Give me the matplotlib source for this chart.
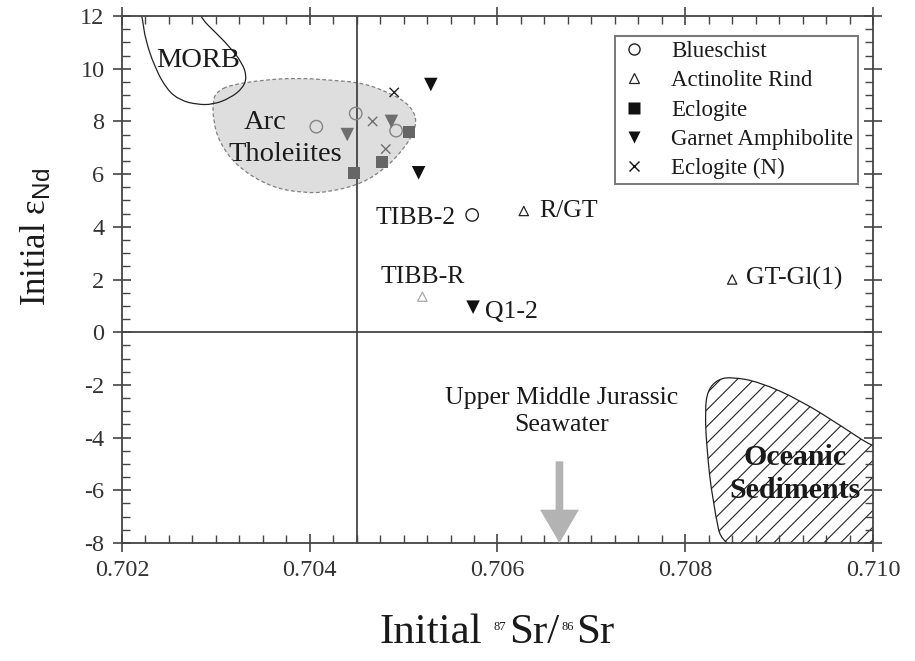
import matplotlib
matplotlib.use("Agg")
import matplotlib.pyplot as plt
from matplotlib.path import Path
from matplotlib.patches import PathPatch
from matplotlib.lines import Line2D

plt.rcParams["font.family"] = ["Liberation Serif", "DejaVu Serif"]
plt.rcParams["mathtext.fontset"] = "custom"
plt.rcParams["mathtext.rm"] = "Liberation Serif"
plt.rcParams["mathtext.it"] = "Liberation Serif:italic"
plt.rcParams["mathtext.sf"] = "Liberation Sans"
plt.rcParams["axes.unicode_minus"] = False
plt.rcParams["hatch.linewidth"] = 0.8

# Proben: initiales 87Sr/86Sr und eNd
blueschist_sr = [0.70407, 0.70449, 0.70492, 0.70573]
blueschist_nd = [7.8, 8.3, 7.65, 4.45]
actinolite_sr = [0.70628, 0.70520, 0.70850]
actinolite_nd = [4.6, 1.35, 2.0]
eclogite_sr = [0.70506, 0.70477, 0.70447]
eclogite_nd = [7.6, 6.45, 6.05]
garnet_amph_sr = [0.70529, 0.70516, 0.70440, 0.70487, 0.70574]
garnet_amph_nd = [9.4, 6.05, 7.5, 8.0, 0.95]
eclogite_n_sr = [0.70490, 0.70467, 0.70481]
eclogite_n_nd = [9.1, 8.0, 6.95]

# Graustufen je Punkt (grau = innerhalb des Arc-Tholeiit-Feldes)
blueschist_shade = ["#858585", "#858585", "#858585", "#222222"]
actinolite_shade = ["#222222", "#a8a8a8", "#222222"]
eclogite_shade = ["#666666", "#666666", "#666666"]
garnet_amph_shade = ["#111111", "#111111", "#6e6e6e", "#6e6e6e", "#111111"]
eclogite_n_shade = ["#222222", "#6e6e6e", "#6e6e6e"]

# Beschriftete Proben
sample_labels = ["TIBB-2", "R/GT", "TIBB-R", "Q1-2", "GT-Gl(1)"]
sample_label_sr = [0.70555, 0.70645, 0.70520, 0.70587, 0.70865]
sample_label_nd = [4.35, 4.6, 2.1, 0.75, 2.05]
sample_label_ha = ["right", "left", "center", "left", "left"]

# Umrisse der Referenzfelder (Sr, eNd)
morb_sr = [0.70219, 0.70222, 0.70225, 0.70235, 0.70248, 0.70262, 0.70280,
           0.70297, 0.70315, 0.70329, 0.70333, 0.70328, 0.70315, 0.70297,
           0.70286, 0.70278, 0.70251]
morb_nd = [12.4, 11.85, 11.1, 10.05, 9.2, 8.8, 8.64, 8.64, 8.88, 9.27, 9.7,
           10.22, 10.82, 11.47, 11.85, 12.4, 13.0]
arc_sr = [0.70301, 0.70315, 0.70350, 0.70386, 0.70422, 0.70457, 0.70485,
          0.70504, 0.70514, 0.70511, 0.70499, 0.70482, 0.70457, 0.70422,
          0.70393, 0.70358, 0.70323, 0.70304, 0.70297, 0.70297]
arc_nd = [9.12, 9.38, 9.57, 9.65, 9.57, 9.46, 9.08, 8.70, 8.17, 7.56, 6.91,
          6.27, 5.66, 5.32, 5.28, 5.51, 6.27, 7.18, 8.05, 8.81]
sed_sr = [0.70842, 0.70829, 0.70823, 0.70821, 0.70824, 0.70835, 0.70850,
          0.70879, 0.70922, 0.70968, 0.71000, 0.71015, 0.71015]
sed_nd = [-8.6, -6.37, -4.47, -2.95, -2.19, -1.78, -1.70, -1.89, -2.57,
          -3.60, -4.36, -4.4, -8.6]

seawater_sr = 0.70666
seawater_nd_top = -4.9


def smooth_outline(xs, ys):
    # geschlossene quadratische B-Spline-Kurve durch die Stuetzpunkte
    pts = list(zip(xs, ys))
    n = len(pts)
    mid = lambda a, b: ((a[0] + b[0]) / 2, (a[1] + b[1]) / 2)
    verts = [mid(pts[0], pts[1])]
    codes = [Path.MOVETO]
    for i in range(1, n + 1):
        p = pts[i % n]
        q = pts[(i + 1) % n]
        verts += [p, mid(p, q)]
        codes += [Path.CURVE3, Path.CURVE3]
    return Path(verts, codes)


def pieced_label(fig, pieces, center_px, baseline_px):
    # Text aus Stuecken unterschiedlicher Groesse (fuer kleine Hochzahlen)
    r = fig.canvas.get_renderer()
    W, H = fig.bbox.width, fig.bbox.height
    widths = []
    for s, fs, rise, gap in pieces:
        t = fig.text(0, 0, s, fontsize=fs)
        widths.append(t.get_window_extent(r).width)
        t.remove()
    total = sum(widths) + sum(p[3] for p in pieces[:-1])
    x = center_px - total / 2
    for (s, fs, rise, gap), w in zip(pieces, widths):
        fig.text(x / W, (H - baseline_px + rise) / H, s, fontsize=fs,
                 va="baseline", ha="left", color="#1a1a1a")
        x += w + gap


fig = plt.figure(figsize=(9.15, 6.61), dpi=100)
ax = fig.add_axes([0.1333, 0.1785, 0.8208, 0.7973])

ax.add_patch(PathPatch(smooth_outline(arc_sr, arc_nd), facecolor="#dedede",
                       edgecolor="#808080", lw=0.9, ls=(0, (3, 2)), zorder=1))
ax.add_patch(PathPatch(smooth_outline(morb_sr, morb_nd), facecolor="none",
                       edgecolor="#222222", lw=0.9, zorder=1))
ax.add_patch(PathPatch(smooth_outline(sed_sr, sed_nd),
                       facecolor="white", edgecolor="#222222", lw=0.9,
                       hatch="//", zorder=1))

ax.axvline(0.7045, color="#444444", lw=1.3, zorder=2)
ax.axhline(0, color="#444444", lw=1.3, zorder=2)

ax.scatter(blueschist_sr, blueschist_nd, s=80, marker="o",
           facecolors="none", edgecolors=blueschist_shade, linewidths=1.0,
           zorder=3)
ax.scatter(actinolite_sr, actinolite_nd, s=45, marker="^",
           facecolors="none", edgecolors=actinolite_shade, linewidths=0.9,
           zorder=3)
ax.scatter(eclogite_sr, eclogite_nd, s=75, marker="s",
           c=eclogite_shade, linewidths=0, zorder=3)
ax.scatter(garnet_amph_sr, garnet_amph_nd, s=95, marker="v",
           c=garnet_amph_shade, linewidths=0, zorder=3)
ax.scatter(eclogite_n_sr, eclogite_n_nd, s=45, marker="x",
           c=eclogite_n_shade, linewidths=1.0, zorder=3)

for lab, sx, ny, ha in zip(sample_labels, sample_label_sr, sample_label_nd,
                           sample_label_ha):
    ax.text(sx, ny, lab, fontsize=18.5, ha=ha, va="center", color="#1a1a1a")

ax.text(0.70281, 10.33, "MORB", fontsize=20.5, ha="center", va="center",
        color="#1a1a1a")
ax.text(0.70353, 7.95, "Arc", fontsize=20.5, ha="center", va="center",
        color="#1a1a1a", zorder=4)
ax.text(0.70374, 6.75, "Tholeiites", fontsize=20.5, ha="center",
        va="center", color="#1a1a1a", zorder=4)
ax.text(0.70917, -5.38, "Oceanic\nSediments", fontsize=21.5,
        fontweight="bold", ha="center", va="center", linespacing=1.25,
        color="#1a1a1a", zorder=4)
ax.text(0.70668, -3.0, "Upper Middle Jurassic\nSeawater", fontsize=18.5,
        ha="center", va="center", linespacing=1.3, color="#1a1a1a")

ax.annotate("", xy=(seawater_sr, -8), xytext=(seawater_sr, seawater_nd_top),
            arrowprops=dict(arrowstyle="simple,head_width=28,head_length=24,"
                                       "tail_width=5.5",
                            mutation_scale=1, color="#b3b3b3", lw=0,
                            shrinkA=0, shrinkB=0), zorder=3)

ax.set_xlim(0.702, 0.710)
ax.set_ylim(-8, 12)
ax.set_xticks([0.702, 0.704, 0.706, 0.708, 0.710])
ax.set_xticklabels(["0.702", "0.704", "0.706", "0.708", "0.710"])
ax.set_yticks(range(-8, 13, 2))
ax.set_xticks([0.702 + 0.00025 * i for i in range(33)], minor=True)
ax.set_yticks([-8 + 0.5 * i for i in range(41)], minor=True)
ax.tick_params(which="major", direction="inout", length=13, width=1.2,
               top=True, right=True, labelsize=17.5, colors="#444444",
               labelcolor="#333333", pad=6)
ax.tick_params(which="minor", direction="in", length=6, width=1.0,
               top=True, right=True, colors="#444444")
for sp in ax.spines.values():
    sp.set_color("#444444")
    sp.set_linewidth(1.3)

ax.set_ylabel(r"Initial $\mathregular{ε}_{\mathsf{Nd}}$", fontsize=25,
              color="#1a1a1a")
ax.yaxis.set_label_coords(-0.09, 0.58)

pieced_label(fig, [("Initial", 31, 0, 11), ("87", 9, 13, 4),
                   ("Sr/", 31, 0, 2), ("86", 9, 13, 2), ("Sr", 31, 0, 0)],
             497, 643)

handles = [
    Line2D([], [], ls="none", marker="o", ms=8, mfc="none", mec="#222222",
           mew=1.0),
    Line2D([], [], ls="none", marker="^", ms=7, mfc="none", mec="#222222",
           mew=0.9),
    Line2D([], [], ls="none", marker="s", ms=8, mfc="#111111", mec="none"),
    Line2D([], [], ls="none", marker="v", ms=9, mfc="#111111", mec="none"),
    Line2D([], [], ls="none", marker="x", ms=6.5, mec="#111111", mew=1.0),
]
names = ["Blueschist", "Actinolite Rind", "Eclogite", "Garnet Amphibolite",
         "Eclogite (N)"]
leg = ax.legend(handles, names, loc="upper right",
                bbox_to_anchor=(0.98, 0.962), fontsize=16.5, frameon=True,
                fancybox=False, framealpha=1, edgecolor="#777777",
                labelspacing=0.36, handlelength=1.2, handletextpad=1.0,
                borderpad=0.22, borderaxespad=0)
leg.get_frame().set_linewidth(1.4)
for t in leg.get_texts():
    t.set_color("#1a1a1a")

fig.savefig("out.png", dpi=100)
